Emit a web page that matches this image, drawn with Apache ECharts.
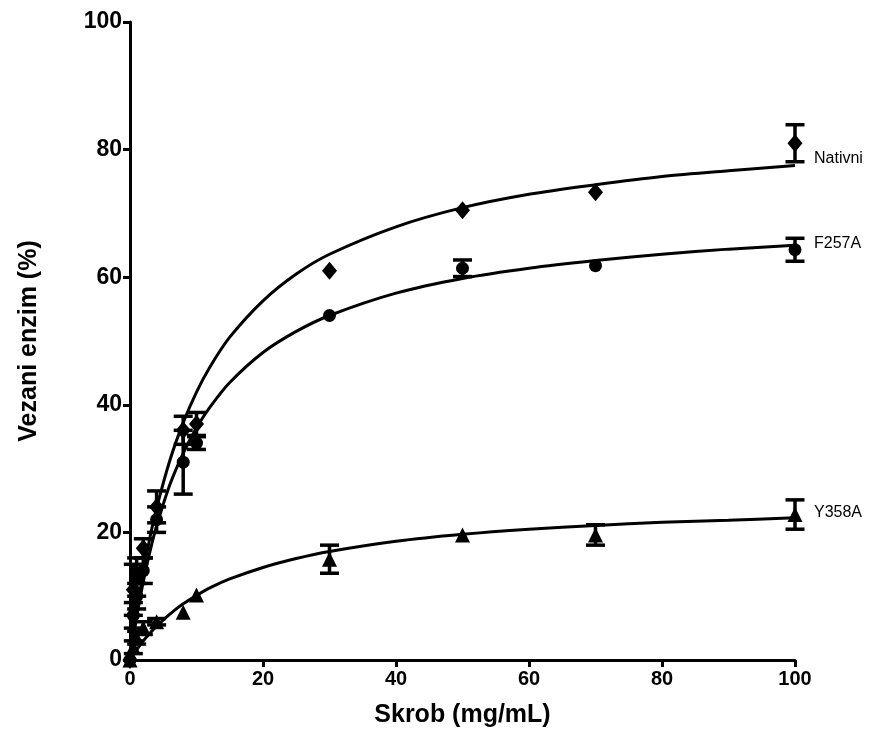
<!DOCTYPE html>
<html>
<head>
<meta charset="utf-8">
<script src="https://cdn.jsdelivr.net/npm/echarts@6/dist/echarts.min.js"></script>
<style>
html,body{margin:0;padding:0;background:#fff;}
#c{width:883px;height:733px;}
</style>
</head>
<body>
<div id="c"></div>
<script>
// Measured data (x = starch mg/mL, y = bound enzyme %)
const xData = [0, 0.5, 1, 2, 4, 8, 10, 30, 50, 70, 100];
const nativniY = [0, 11, 13, 17.5, 24, 36, 37, 61, 70.5, 73.3, 81];
const nativniErr = [0, 4, 3, 1.5, 2.5, 2.2, 1.8, 0, 0, 0, 2.9];
const f257aY = [0, 7, 10, 14, 22, 31, 34, 54, 61.4, 61.8, 64.3];
const f257aErr = [0, 2, 2, 2, 2, 5, 1, 0, 1.3, 0, 1.8];
const y358aY = [0, 2, 3.5, 5, 6, 7.5, 10.2, 15.8, 19.6, 19.6, 22.8];
const y358aErr = [0, 1, 1, 1, 0.5, 0, 0, 2.2, 0, 1.6, 2.3];

// Fitted curves
const curveX = [0, 1, 2, 3, 4, 6, 8, 10, 12, 15, 20, 25, 30, 40, 50, 60, 70, 80, 90, 100];
const nativniFit = [0, 7.5, 13.8, 19.2, 23.8, 31.3, 37.2, 42.0, 45.9, 50.6, 56.3, 60.5, 63.6, 67.9, 70.9, 73.0, 74.5, 75.8, 76.7, 77.5];
const f257aFit = [0, 6.7, 12.3, 17.0, 21.0, 27.5, 32.4, 36.4, 39.6, 43.5, 48.2, 51.5, 54.0, 57.5, 59.8, 61.4, 62.6, 63.6, 64.4, 65.0];
const y358aFit = [0, 1.6, 3.0, 4.2, 5.3, 7.2, 8.8, 10.1, 11.3, 12.7, 14.5, 15.9, 17.0, 18.6, 19.7, 20.5, 21.1, 21.6, 21.9, 22.3];

const xTicks = [0, 20, 40, 60, 80, 100];
const yTicks = [0, 20, 40, 60, 80, 100];
const seriesNames = ['Nativni', 'F257A', 'Y358A'];

const pts = (ys) => xData.map((x, i) => [x, ys[i]]);
const errs = (ys, es) => xData.map((x, i) => [x, ys[i] - es[i], ys[i] + es[i]]).filter((d, i) => es[i] > 0);
const fit = (ys) => curveX.map((x, i) => [x, ys[i]]);

function errRender(params, api) {
  const x = api.value(0);
  const lo = api.coord([x, api.value(1)]);
  const hi = api.coord([x, api.value(2)]);
  const w = 9.5;
  const st = {stroke: '#000', lineWidth: 3.5};
  return {
    type: 'group',
    children: [
      {type: 'line', shape: {x1: lo[0], y1: lo[1], x2: hi[0], y2: hi[1]}, style: st},
      {type: 'line', shape: {x1: lo[0] - w, y1: lo[1], x2: lo[0] + w, y2: lo[1]}, style: st},
      {type: 'line', shape: {x1: hi[0] - w, y1: hi[1], x2: hi[0] + w, y2: hi[1]}, style: st}
    ]
  };
}

const fitSeries = (name, ys, offY) => ({
  name: name, type: 'line', data: fit(ys), smooth: 0.3, symbol: 'none',
  lineStyle: {color: '#000', width: 3}, z: 2,
  endLabel: {show: true, formatter: name, color: '#000', fontSize: 16,
    fontFamily: 'Liberation Sans, Arial, sans-serif', offset: [11, offY]}
});
const scatterSeries = (ys, sym, size) => ({
  type: 'scatter', data: pts(ys), symbol: sym, symbolSize: size,
  itemStyle: {color: '#000', opacity: 1}, z: 3
});
const errSeries = (ys, es) => ({
  type: 'custom', data: errs(ys, es), renderItem: errRender, z: 3,
  encode: {x: 0, y: [1, 2]}
});

const chart = echarts.init(document.getElementById('c'));
chart.setOption({
  backgroundColor: '#fff',
  animation: false,
  grid: {left: 130, right: 88, top: 22, bottom: 73},
  xAxis: {
    type: 'value', min: 0, max: 100, interval: 20,
    name: 'Skrob (mg/mL)', nameLocation: 'middle', nameGap: 43,
    nameTextStyle: {color: '#000', fontSize: 25, fontWeight: 'bold', fontFamily: 'Liberation Sans, Arial, sans-serif'},
    axisLine: {lineStyle: {color: '#000', width: 3}},
    axisTick: {show: true, length: 7, lineStyle: {color: '#000', width: 3}},
    axisLabel: {color: '#000', fontSize: 20, fontWeight: 'bold', margin: 9,
      fontFamily: 'Liberation Sans, Arial, sans-serif',
      formatter: (v) => xTicks.includes(v) ? String(v) : ''},
    splitLine: {show: false}
  },
  yAxis: {
    type: 'value', min: 0, max: 100, interval: 20,
    name: 'Vezani enzim (%)', nameLocation: 'middle', nameGap: 88, nameRotate: 90,
    nameTextStyle: {color: '#000', fontSize: 25, fontWeight: 'bold', fontFamily: 'Liberation Sans, Arial, sans-serif'},
    axisLine: {show: true, lineStyle: {color: '#000', width: 3}},
    axisTick: {show: true, length: 7, lineStyle: {color: '#000', width: 3}},
    axisLabel: {color: '#000', fontSize: 23, fontWeight: 'bold', margin: 8,
      fontFamily: 'Liberation Sans, Arial, sans-serif',
      formatter: (v) => yTicks.includes(v) ? String(v) : ''},
    splitLine: {show: false}
  },
  series: [
    fitSeries(seriesNames[0], nativniFit, -7),
    fitSeries(seriesNames[1], f257aFit, -2),
    fitSeries(seriesNames[2], y358aFit, -5),
    errSeries(nativniY, nativniErr),
    errSeries(f257aY, f257aErr),
    errSeries(y358aY, y358aErr),
    scatterSeries(nativniY, 'diamond', [15, 18]),
    scatterSeries(f257aY, 'circle', 13),
    scatterSeries(y358aY, 'triangle', 15)
  ]
});
</script>
</body>
</html>
